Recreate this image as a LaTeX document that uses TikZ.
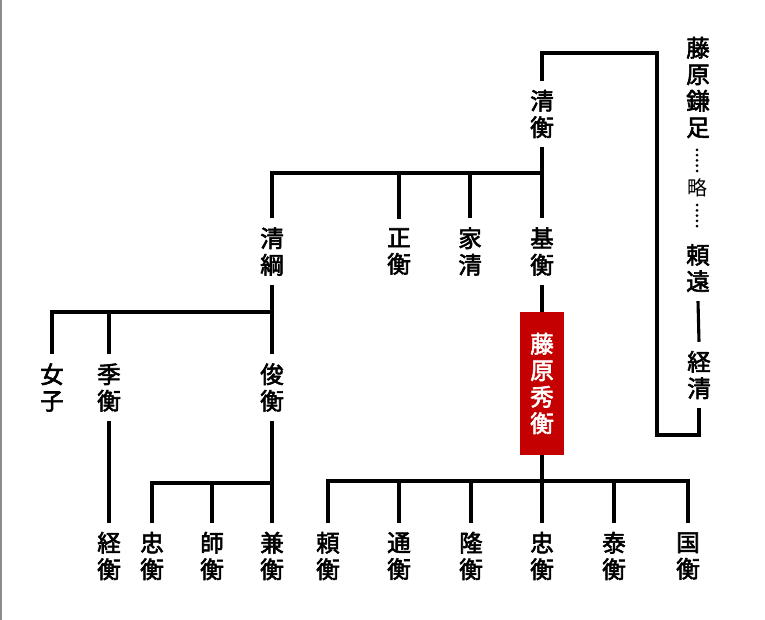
\documentclass[tikz,border=0pt]{standalone}
\usepackage{fontspec}
\usetikzlibrary{calc}
\setmainfont{Noto Sans CJK JP}[FakeBold=2.5]
\newfontfamily\thinjp{Noto Sans CJK JP}
\definecolor{hred}{HTML}{C40000}
\begin{document}
\begin{tikzpicture}[x=1pt,y=-1pt,
  nm/.style={align=center, inner xsep=0pt, inner ysep=9pt, font=\fontsize{23.5}{26.5}\selectfont},
  ln/.style={line width=3.1pt},
  dotmark/.style={fill=black},
  hide/.style={fill=hred, text=white, minimum width=44pt, minimum height=143pt, inner sep=0pt, align=center, font=\fontsize{23.5}{26.5}\selectfont}]
\useasboundingbox (0,0) rectangle (765,620);
\draw[black!45, line width=1.5pt] (1.2,0) -- (1.2,620);
% nodes
\node[nm] (qh) at (542,114) {清\\衡};
\node[nm] (fk) at (698,87.5) {藤\\原\\鎌\\足};
\node[inner sep=3pt, font=\thinjp\fontsize{20}{22}\selectfont] (ry) at (697,188) {略};
\node[nm] (yt) at (698,268) {頼\\遠};
\node[nm] (kk) at (699,375) {経\\清};
\node[nm] (kt) at (272,251.5) {清\\綱};
\node[nm] (sh) at (399,251.5) {正\\衡};
\node[nm] (ks) at (470,251.5) {家\\清};
\node[nm] (mh) at (542,251.5) {基\\衡};
\node[hide] (hh) at (542,383.5) {藤\\原\\秀\\衡};
\node[nm] (jo) at (52,387.5) {女\\子};
\node[nm] (sue) at (109,387.5) {季\\衡};
\node[nm] (th) at (272,387.5) {俊\\衡};
\node[nm] (kh) at (109,556) {経\\衡};
\node[nm] (tad1) at (152,556) {忠\\衡};
\node[nm] (mor) at (212,556) {師\\衡};
\node[nm] (kan) at (272,556) {兼\\衡};
\node[nm] (yor) at (328,556) {頼\\衡};
\node[nm] (mic) at (399,556) {通\\衡};
\node[nm] (tak) at (471,556) {隆\\衡};
\node[nm] (tad2) at (542,556) {忠\\衡};
\node[nm] (yas) at (614,556) {泰\\衡};
\node[nm] (kun) at (688,556) {国\\衡};
% bus levels
\coordinate (tr) at (657,53);
\coordinate (br) at (657,435);
\coordinate (b1) at (0,173);
\coordinate (b2) at (0,312);
\coordinate (b3) at (0,483);
\coordinate (b4) at (0,481);
% connectors
\draw[ln] (qh.north) |- (tr) -- (br) -| (kk.south);
\foreach \i in {0,...,4} {
  \fill[dotmark] ($(ry.center)+(0,-17-\i*5.3)$) circle (1.5pt);
  \fill[dotmark] ($(ry.center)+(0,17+\i*5.3)$) circle (1.5pt);
}
\draw[ln] (yt.south) -- (kk.north);
\draw[ln] (qh.south) -- (mh.north);
\draw[ln] (kt.north) |- (mh.north |- b1);
\draw[ln] (sh.north) -- (sh.north |- b1);
\draw[ln] (ks.north) -- (ks.north |- b1);
\draw[ln] (mh.south) -- (hh.north);
\draw[ln] (kt.south) -- (th.north);
\draw[ln] (jo.north) |- (th.north |- b2);
\draw[ln] (sue.north) -- (sue.north |- b2);
\draw[ln] (sue.south) -- (kh.north);
\draw[ln] (th.south) -- (kan.north);
\draw[ln] (tad1.north) |- (kan.north |- b3);
\draw[ln] (mor.north) -- (mor.north |- b3);
\draw[ln] (hh.south) -- (hh.south |- b4);
\draw[ln] (yor.north) |- (kun.north |- b4) -- (kun.north);
\draw[ln] (mic.north) -- (mic.north |- b4);
\draw[ln] (tak.north) -- (tak.north |- b4);
\draw[ln] (tad2.north) -- (tad2.north |- b4);
\draw[ln] (yas.north) -- (yas.north |- b4);
\end{tikzpicture}
\end{document}
